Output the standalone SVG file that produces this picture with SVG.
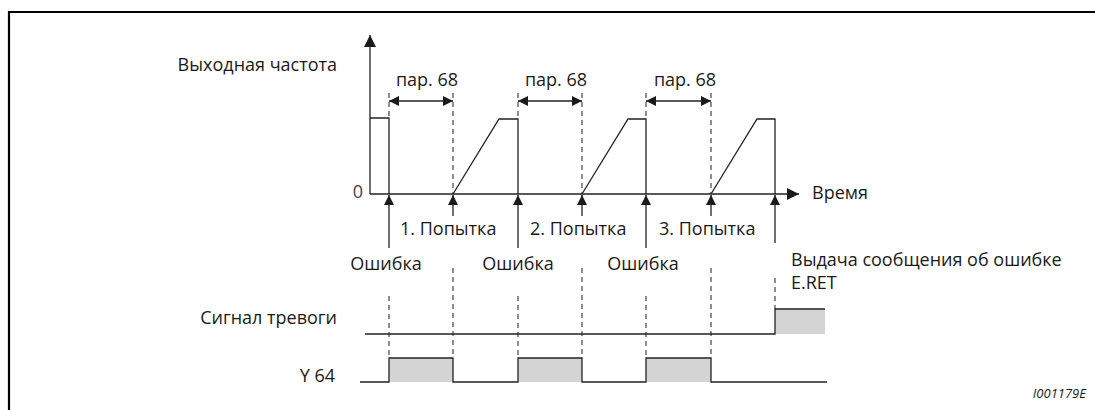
<svg xmlns="http://www.w3.org/2000/svg" width="1095" height="410" viewBox="0 0 1095 410">
<defs>
<style>
.t{font-family:"Open Sans","Liberation Sans",Arial,sans-serif;font-size:18px;fill:#1a1a1a}
.ln{fill:none;stroke:#222;stroke-width:1.3}
.ds{fill:none;stroke:#333;stroke-width:1.1;stroke-dasharray:5,4}
.g{fill:#d4d4d4;stroke:none}
</style>
<marker id="ah" viewBox="0 0 10 10" refX="10" refY="5" markerWidth="10" markerHeight="10" markerUnits="userSpaceOnUse" orient="auto-start-reverse">
<path d="M0,0 L10,5 L0,10 z" fill="#1a1a1a"/>
</marker>
<marker id="ah2" viewBox="0 0 12 12" refX="12" refY="6" markerWidth="12" markerHeight="12" markerUnits="userSpaceOnUse" orient="auto">
<path d="M0,0 L12,6 L0,12 z" fill="#1a1a1a"/>
</marker>
</defs>
<rect width="1095" height="410" fill="#fff"/>
<path d="M9,415 V12 H1100" fill="none" stroke="#000" stroke-width="2.2"/>

<g id="axes">
<line class="ln" x1="370" y1="194" x2="370" y2="35" marker-end="url(#ah2)"/>
<line class="ln" x1="370" y1="194" x2="799" y2="194" marker-end="url(#ah2)"/>
</g>

<g id="frequency">
<polyline class="ln" points="370,118 389,118 389,194"/>
<polyline class="ln" points="453,194 499,119 518,119 518,194"/>
<polyline class="ln" points="582,194 628,119 646,119 646,194"/>
<polyline class="ln" points="711,194 757,119 775,119 775,194"/>
</g>

<g id="connectors">
<line class="ds" x1="389" y1="93" x2="389" y2="118"/>
<line class="ds" x1="453" y1="93" x2="453" y2="194"/>
<line class="ds" x1="518" y1="93" x2="518" y2="119"/>
<line class="ds" x1="582" y1="93" x2="582" y2="194"/>
<line class="ds" x1="646" y1="93" x2="646" y2="119"/>
<line class="ds" x1="711" y1="93" x2="711" y2="194"/>
<line class="ln" x1="389" y1="101" x2="453" y2="101" marker-start="url(#ah)" marker-end="url(#ah)"/>
<line class="ln" x1="518" y1="101" x2="582" y2="101" marker-start="url(#ah)" marker-end="url(#ah)"/>
<line class="ln" x1="646" y1="101" x2="711" y2="101" marker-start="url(#ah)" marker-end="url(#ah)"/>
<line class="ln" x1="389" y1="248" x2="389" y2="195" marker-end="url(#ah)"/>
<line class="ln" x1="518" y1="248" x2="518" y2="195" marker-end="url(#ah)"/>
<line class="ln" x1="646" y1="248" x2="646" y2="195" marker-end="url(#ah)"/>
<line class="ln" x1="453" y1="216" x2="453" y2="195" marker-end="url(#ah)"/>
<line class="ln" x1="582" y1="216" x2="582" y2="195" marker-end="url(#ah)"/>
<line class="ln" x1="711" y1="216" x2="711" y2="195" marker-end="url(#ah)"/>
<line class="ln" x1="775" y1="243" x2="775" y2="195" marker-end="url(#ah)"/>
<line class="ds" x1="389" y1="296" x2="389" y2="358"/>
<line class="ds" x1="518" y1="296" x2="518" y2="358"/>
<line class="ds" x1="646" y1="296" x2="646" y2="358"/>
<line class="ds" x1="453" y1="268" x2="453" y2="358"/>
<line class="ds" x1="582" y1="268" x2="582" y2="358"/>
<line class="ds" x1="711" y1="268" x2="711" y2="358"/>
<line class="ds" x1="775" y1="278" x2="775" y2="309"/>
</g>

<g id="alarm">
<rect class="g" x="775" y="309" width="50" height="25"/>
<polyline class="ln" points="365,334 775,334 775,309 825,309"/>
</g>

<g id="y64">
<rect class="g" x="389" y="358" width="64" height="24"/>
<rect class="g" x="518" y="358" width="64" height="24"/>
<rect class="g" x="646" y="358" width="65" height="24"/>
<polyline class="ln" points="360,382 389,382 389,358 453,358 453,382 518,382 518,358 582,358 582,382 646,382 646,358 711,358 711,382 827,382"/>
</g>

<g id="labels">
<text class="t" x="337" y="71" text-anchor="end">Выходная частота</text>
<text class="t" x="363" y="198" text-anchor="end" style="fill:#444">0</text>
<text class="t" x="427" y="86" text-anchor="middle">пар. 68</text>
<text class="t" x="556" y="86" text-anchor="middle">пар. 68</text>
<text class="t" x="685" y="86" text-anchor="middle">пар. 68</text>
<text class="t" x="812" y="199">Время</text>
<text class="t" x="400" y="235">1. Попытка</text>
<text class="t" x="530" y="235">2. Попытка</text>
<text class="t" x="659" y="235">3. Попытка</text>
<text class="t" x="386" y="270" text-anchor="middle">Ошибка</text>
<text class="t" x="518" y="270" text-anchor="middle">Ошибка</text>
<text class="t" x="643" y="270" text-anchor="middle">Ошибка</text>
<text class="t" x="791" y="266">Выдача сообщения об ошибке</text>
<text class="t" x="791" y="289">E.RET</text>
<text class="t" x="337" y="324" text-anchor="end">Сигнал тревоги</text>
<text class="t" x="335" y="382" text-anchor="end">Y 64</text>
<text class="t" x="1086" y="398" text-anchor="end" style="font-size:13px;font-style:italic">I001179E</text>
</g>
</svg>
